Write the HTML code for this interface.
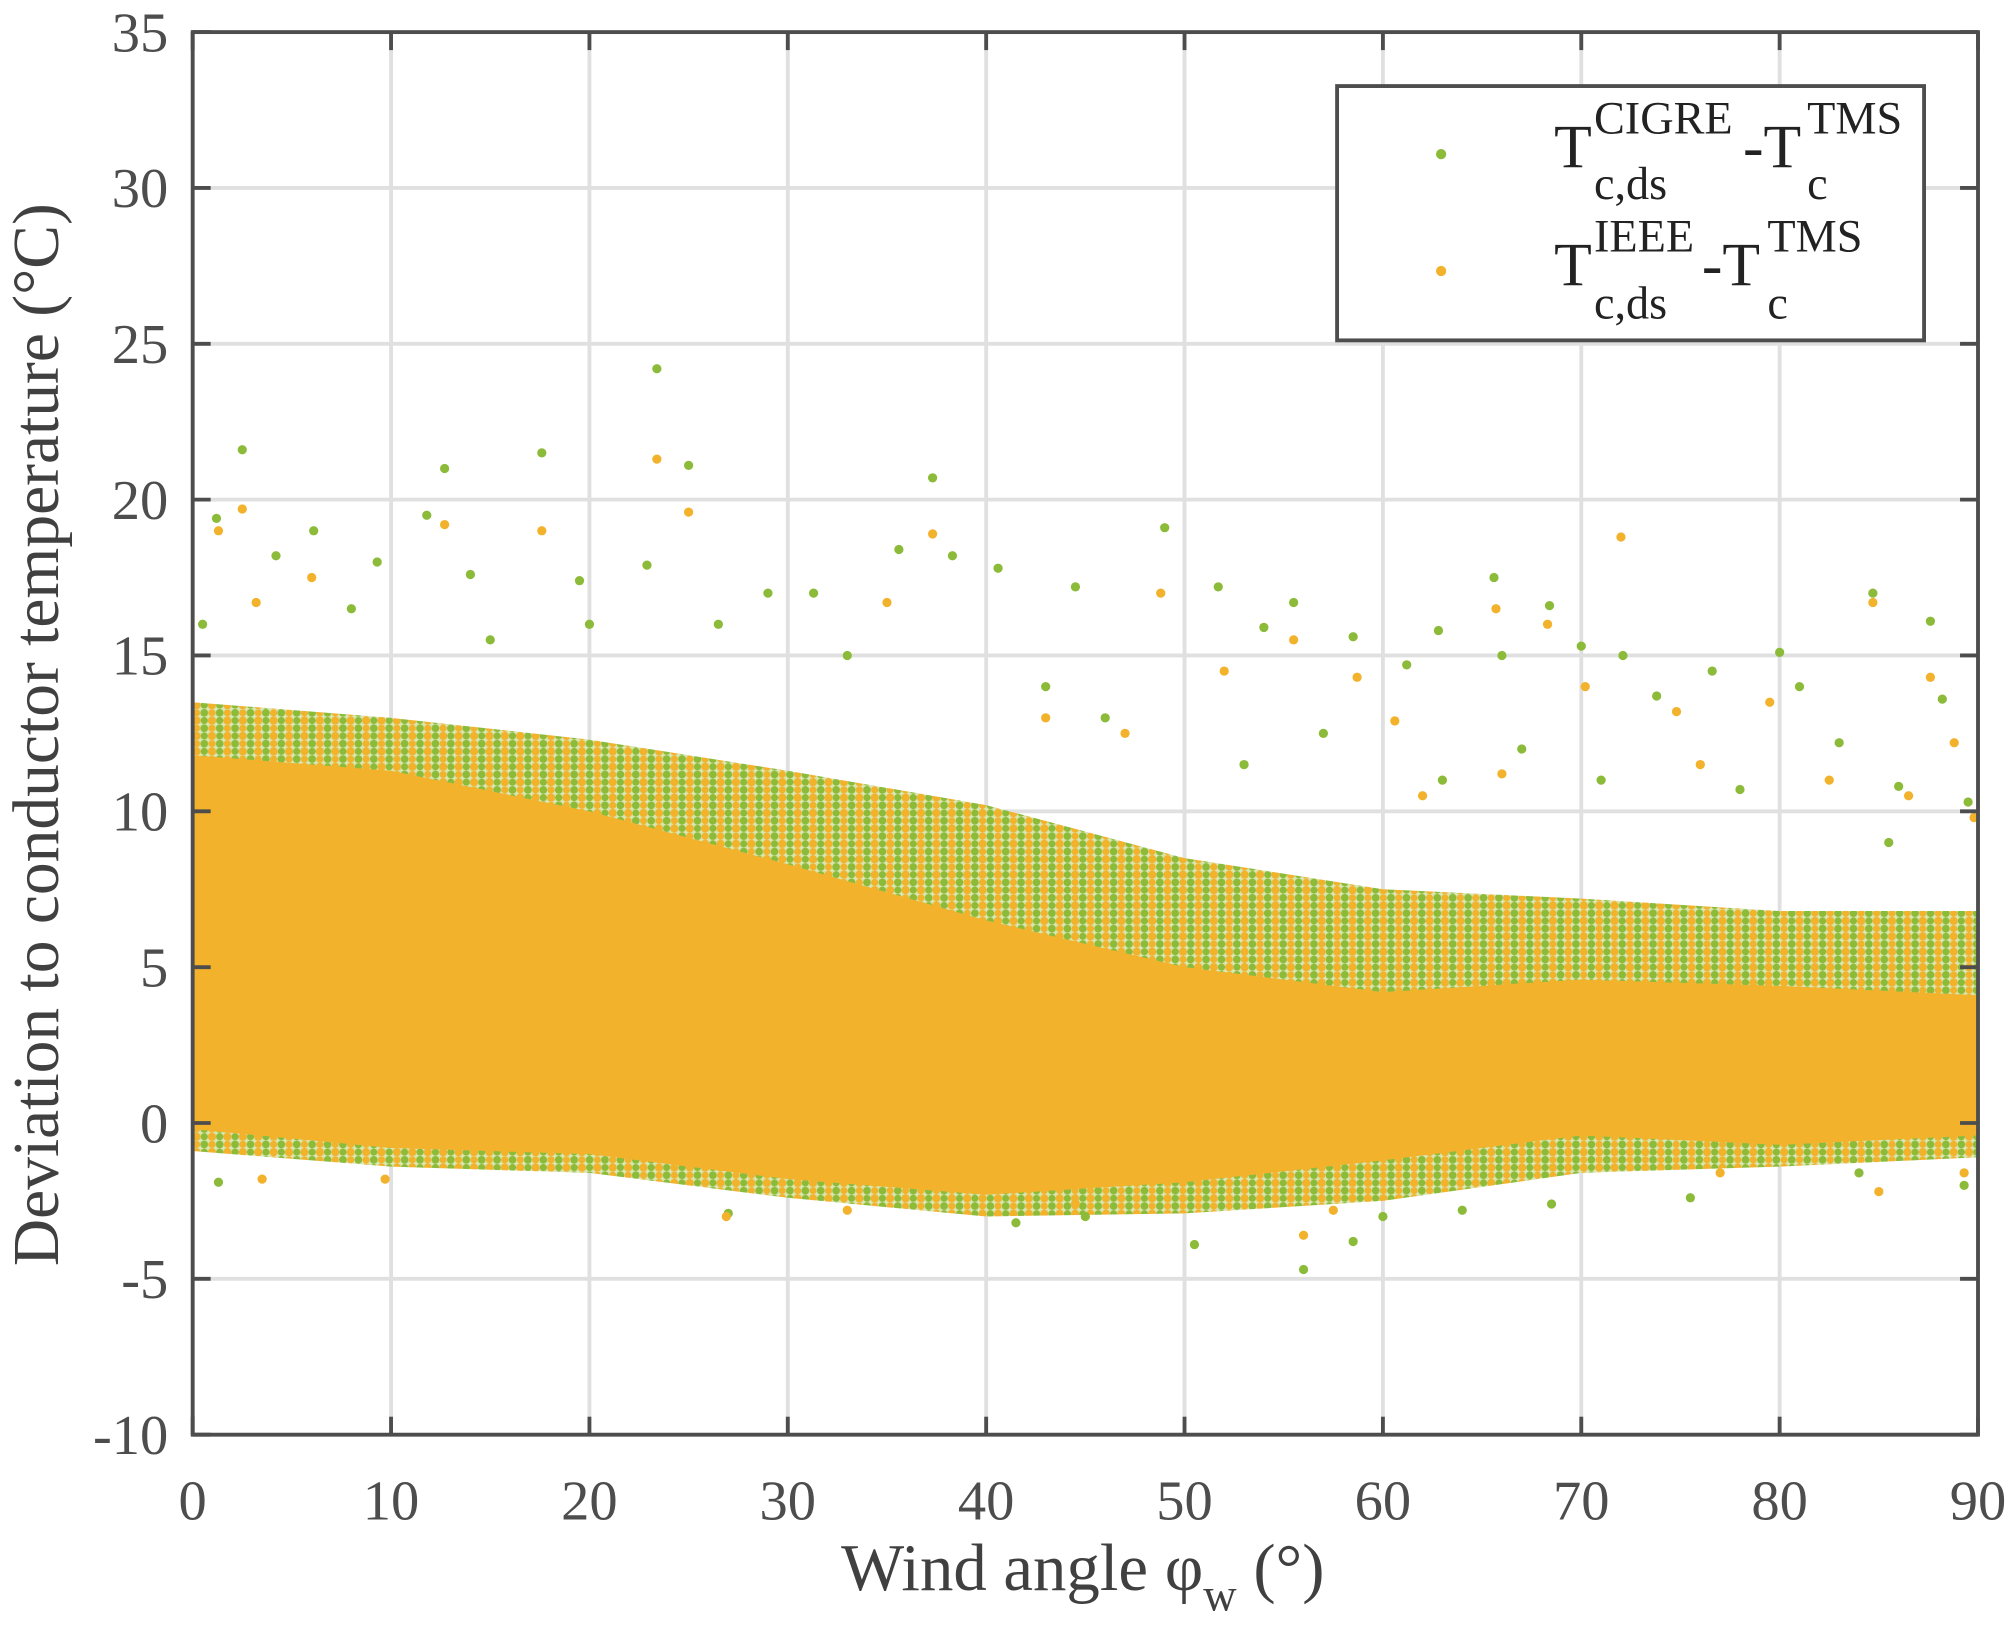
<!DOCTYPE html>
<html><head><meta charset="utf-8"><style>
html,body{margin:0;padding:0;background:#fff;}
svg{display:block;font-family:"Liberation Serif",serif;}
</style></head><body>
<svg id="chart" width="2014" height="1633" viewBox="0 0 1568 1271.4" xmlns="http://www.w3.org/2000/svg">
<defs>
<pattern id="halo" width="12" height="12" patternUnits="userSpaceOnUse">
<rect width="12" height="12" fill="#d9e6b0"/>
<circle cx="3" cy="3" r="3" fill="#8cbb3a"/><circle cx="9" cy="9" r="3.2" fill="#f2b22c"/><circle cx="9" cy="3" r="2.8" fill="#f2b22c"/><circle cx="3" cy="9" r="2.8" fill="#8cbb3a"/>
</pattern>
</defs>
<g id="grid"></g>
<g id="marks"></g>
<g id="axes"></g>
<text transform="translate(45,572) rotate(-90)" text-anchor="middle" font-size="51" fill="#404040">Deviation to conductor temperature (°C)</text>
<text x="843" y="1238" text-anchor="middle" font-size="52" fill="#404040">Wind angle φ<tspan font-size="36" dy="16">w</tspan><tspan dy="-16"> (°)</tspan></text>
<g>
<rect x="1041" y="67" width="457" height="198" fill="#fff" stroke="#4d4d4d" stroke-width="3"/>
<circle cx="1122" cy="120" r="4" fill="#8cbb3a"/>
<circle cx="1122" cy="211" r="4" fill="#f2b22c"/>
<g fill="#222">
<text x="1210" y="130" font-size="48">T</text>
<text x="1241" y="104" font-size="36">CIGRE</text>
<text x="1241" y="155" font-size="36">c,ds</text>
<text x="1357" y="130" font-size="48">-T</text>
<text x="1407" y="104" font-size="36">TMS</text>
<text x="1407" y="155" font-size="36">c</text>
</g>
<g fill="#222">
<text x="1210" y="222" font-size="48">T</text>
<text x="1241" y="196" font-size="36">IEEE</text>
<text x="1241" y="248" font-size="36">c,ds</text>
<text x="1325" y="222" font-size="48">-T</text>
<text x="1376" y="196" font-size="36">TMS</text>
<text x="1376" y="248" font-size="36">c</text>
</g>
</g>
</svg>
<script>
const xTicks=[0,10,20,30,40,50,60,70,80,90];
const yTicks=[-10,-5,0,5,10,15,20,25,30,35];
const binX=[0,10,20,30,40,50,60,70,80,90];
const haloTop=[13.5,13,12.3,11.3,10.2,8.5,7.5,7.2,6.8,6.8];
const haloBottom=[-0.9,-1.4,-1.6,-2.4,-3,-2.9,-2.5,-1.6,-1.4,-1.1];
const coreTop=[11.8,11.3,10,8.3,6.5,5,4.2,4.6,4.4,4.1];
const coreBottom=[-0.2,-0.8,-1,-1.8,-2.3,-1.9,-1.2,-0.4,-0.7,-0.4];
const cigreX=[2.5,23.4,12.7,17.6,25,37.3,1.2,6.1,11.8,49,9.3,4.2,35.6,38.3,40.6,44.5,51.7,22.9,65.6,84.7,55.5,68.4,87.6,0.5,58.5,70,72.1,80,76.6,73.8,88.2,61.2,62.8,54,29,31.3,26.5,14,19.5,56,50.5,58.5,41.5,75.5,89.3,27,1.3,60,45,64,68.5,84,81,86,89.5,67,63,71,78,83,66,85.5,57,53,46,33,20,8,15,43];
const cigreY=[21.6,24.2,21,21.5,21.1,20.7,19.4,19,19.5,19.1,18,18.2,18.4,18.2,17.8,17.2,17.2,17.9,17.5,17,16.7,16.6,16.1,16,15.6,15.3,15,15.1,14.5,13.7,13.6,14.7,15.8,15.9,17,17,16,17.6,17.4,-4.7,-3.9,-3.8,-3.2,-2.4,-2,-2.9,-1.9,-3,-3,-2.8,-2.6,-1.6,14,10.8,10.3,12,11,11,10.7,12.2,15,9,12.5,11.5,13,15,16,16.5,15.5,14];
const ieeeX=[2.5,23.4,25,12.7,17.6,1.3,37.3,72,6,84.7,48.8,65.7,68.3,55.5,3.2,87.6,52,58.7,70.2,79.5,60.6,74.8,88.8,82.5,76,62,66,86.5,89.8,43,47,35,56,57.5,89.3,85,3.5,9.7,26.9,33,44.5,77];
const ieeeY=[19.7,21.3,19.6,19.2,19,19,18.9,18.8,17.5,16.7,17,16.5,16,15.5,16.7,14.3,14.5,14.3,14,13.5,12.9,13.2,12.2,11,11.5,10.5,11.2,10.5,9.8,13,12.5,16.7,-3.6,-2.8,-1.6,-2.2,-1.8,-1.8,-3,-2.8,-2.6,-1.6];
const X=v=>150+(v-0)/90*1390;
const Y=v=>1117-(v+10)/45*1092;
const NS="http://www.w3.org/2000/svg";
function mk(tag,attrs,parent){const e=document.createElementNS(NS,tag);for(const k in attrs)e.setAttribute(k,attrs[k]);parent.appendChild(e);return e;}
const grid=document.getElementById('grid'),axes=document.getElementById('axes'),marks=document.getElementById('marks');
xTicks.forEach(t=>{
 const g=mk('line',{x1:X(t),x2:X(t),y1:25,y2:1117,stroke:'#e0e0e0','stroke-width':3},grid);
 
 
 const l=mk('text',{x:X(t),y:1183,'text-anchor':'middle','font-size':44,fill:'#4d4d4d'},axes);
 l.textContent=t;
 
 
 mk('line',{x1:X(t),x2:X(t),y1:1117,y2:1103,stroke:'#4d4d4d','stroke-width':3},axes);
 mk('line',{x1:X(t),x2:X(t),y1:25,y2:39,stroke:'#4d4d4d','stroke-width':3},axes);
});
yTicks.forEach(t=>{
 const g=mk('line',{x1:150,x2:1540,y1:Y(t),y2:Y(t),stroke:'#e0e0e0','stroke-width':3},grid);
 
 
 const l=mk('text',{x:131,y:Y(t)+15,'text-anchor':'end','font-size':44,fill:'#4d4d4d'},axes);
 l.textContent=t;
 
 
 mk('line',{x1:150,x2:164,y1:Y(t),y2:Y(t),stroke:'#4d4d4d','stroke-width':3},axes);
 mk('line',{x1:1526,x2:1540,y1:Y(t),y2:Y(t),stroke:'#4d4d4d','stroke-width':3},axes);
});
const frame=mk('rect',{x:150,y:25,width:1390,height:1092,fill:'none',stroke:'#4d4d4d','stroke-width':3},axes);


function band(top,bot,fill,name){
 let p=binX.map((x,i)=>X(x)+','+Y(top[i])).join(' ')+' '+binX.slice().reverse().map((x,i)=>X(x)+','+Y(bot[bot.length-1-i])).join(' ');
 const e=mk('polygon',{points:p,fill:fill,'stroke-linejoin':'round'},marks);
 
 
}
band(haloTop,haloBottom,'url(#halo)','cigre-sparse-cloud');
band(coreTop,coreBottom,'#f2b22c','ieee-dense-cloud');
cigreX.forEach((x,i)=>{
 const c=mk('circle',{cx:X(x),cy:Y(cigreY[i]),r:3.6,fill:'#8cbb3a'},marks);
 
 
});
ieeeX.forEach((x,i)=>{
 const c=mk('circle',{cx:X(x),cy:Y(ieeeY[i]),r:3.6,fill:'#f2b22c'},marks);
 
 
});
</script>
</body></html>
